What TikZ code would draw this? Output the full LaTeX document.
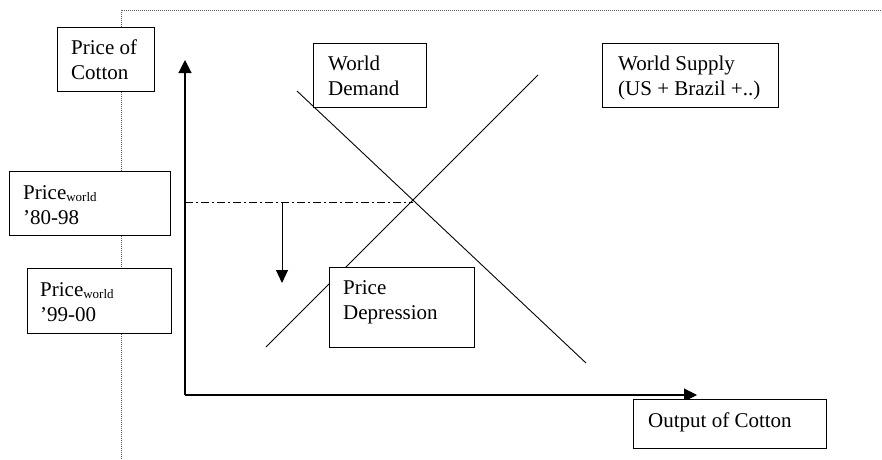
\documentclass[tikz,border=0pt]{standalone}
\usepackage{fontspec}
\setmainfont{Liberation Serif}
\usetikzlibrary{arrows.meta}
\newcommand{\subw}{\raisebox{-2pt}{\fontsize{13}{13}\selectfont world}}
\begin{document}
\begin{tikzpicture}[x=1pt,y=-1pt,
  boxnode/.style={draw, line width=1pt, fill=white, rectangle, inner sep=0pt, anchor=north west},
  txt/.style={anchor=north west, inner sep=0pt, align=left, font=\fontsize{21}{25}\selectfont},
  frameline/.style={black!65, line width=1pt, dash pattern=on 1pt off 1pt},
  curve/.style={line width=0.9pt},
  axis/.style={line width=1.1pt, -{Triangle[length=13pt,width=13pt]}},
  dashdot/.style={line width=0.9pt, dash pattern=on 8pt off 3pt on 2pt off 3pt}
]
\useasboundingbox (0,0) rectangle (882,459);
% frame
\coordinate (fc) at (121,10);
\coordinate (fb) at (121,459);
\coordinate (fr) at (882,10);
\draw[frameline] (fb) -- (fc) -- (fr);
% axes
\coordinate (O) at (185,395);
\coordinate (ytip) at (185,60);
\coordinate (xtip) at (697,395);
\draw[axis] (O) -- (ytip);
\draw[axis] (O) -- (xtip);
% supply and demand
\coordinate (s1) at (266,347);
\coordinate (s2) at (538,75);
\coordinate (d1) at (297,91);
\coordinate (d2) at (586,363);
\draw[curve] (s1) -- (s2);
\draw[curve] (d1) -- (d2);
\coordinate (X) at (intersection of s1--s2 and d1--d2);
\coordinate (pl) at (185,202);
\draw[dashdot] (pl) -- (pl -| X);
\coordinate (a1) at (282,202);
\coordinate (a2) at (282,283);
\draw[line width=1pt, -{Triangle[length=13pt,width=12pt]}] (a1) -- (a2);
% boxes
\node[boxnode, minimum width=97pt, minimum height=64pt] (pc) at (57,27) {};
\node[txt] (pct) at ([shift={(14,9.5)}]pc.north west) {\strut Price of\\Cotton};
\node[boxnode, minimum width=113pt, minimum height=64pt] (wd) at (313,43) {};
\node[txt] (wdt) at ([shift={(15,9.5)}]wd.north west) {\strut World\\Demand};
\node[boxnode, minimum width=176pt, minimum height=64pt] (ws) at (602,43) {};
\node[txt] (wst) at ([shift={(16,9.5)}]ws.north west) {\strut World Supply\\(US + Brazil +..)};
\node[boxnode, minimum width=161pt, minimum height=64pt] (p1) at (9,171) {};
\node[txt] (p1t) at ([shift={(14,10.5)}]p1.north west) {\strut Price\subw\\'80-98};
\node[boxnode, minimum width=144pt, minimum height=65pt] (p2) at (27,268) {};
\node[txt] (p2t) at ([shift={(13,10.5)}]p2.north west) {\strut Price\subw\\'99-00};
\node[boxnode, minimum width=145pt, minimum height=80pt] (pd) at (329,267) {};
\node[txt] (pdt) at ([shift={(14,9.5)}]pd.north west) {\strut Price\\Depression};
\node[boxnode, minimum width=193pt, minimum height=49pt] (oc) at (633,399) {};
\node[txt] (oct) at ([shift={(15,10.5)}]oc.north west) {\strut Output of Cotton};
\end{tikzpicture}
\end{document}
